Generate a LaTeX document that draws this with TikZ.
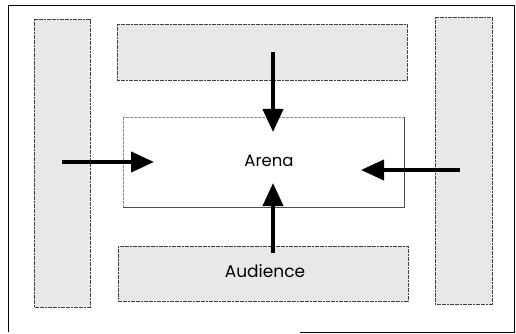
\documentclass[tikz,border=0pt]{standalone}
\usepackage{fontspec}
\setmainfont{Poppins}
\usetikzlibrary{arrows.meta}
\begin{document}
\begin{tikzpicture}[x=1pt,y=-1pt,
  zone/.style={draw=black!75, line width=0.7pt, dash pattern=on 2pt off 0.6pt, fill=black!9},
  arenabox/.style={draw=black!45, line width=0.5pt, dash pattern=on 3pt off 1pt},
  bigarrow/.style={line width=4pt, -{Triangle[length=23pt,width=20pt]}}]
\useasboundingbox (0,0) rectangle (516,334);
\draw[line width=0.9pt] (8,332) |- (514,5);
\draw[line width=0.6pt] (514,5) -- (514,332) -- (300,332);
% zones
\draw[zone] (34,19) rectangle (90,307);
\draw[zone] (435,17) rectangle (492,304);
\draw[zone] (117,24) rectangle (407,80);
\draw[zone] (118,246) rectangle (408,301);
\node[inner sep=0] (audience) at (265,271) {\fontsize{17}{19}\selectfont Audience};
% arena
\draw[arenabox] (123,117) rectangle (404,207);
\draw[black!70, line width=0.7pt] (123,207) -- (404,207) -- (404,117);
\node[inner sep=0] (arena) at (269,161) {\fontsize{16.5}{19}\selectfont Arena};
% arrow ends
\coordinate (lS) at (62,162);  \coordinate (lE) at (154,162);
\coordinate (rS) at (460,170); \coordinate (rE) at (361,170);
\coordinate (tS) at (273,52);  \coordinate (tE) at (273,132);
\coordinate (bS) at (273,253); \coordinate (bE) at (273,183);
\draw[bigarrow] (lS) -- (lE);
\draw[bigarrow] (rS) -- (rE);
\draw[bigarrow] (tS) -- (tE);
\draw[bigarrow] (bS) -- (bE);
\end{tikzpicture}
\end{document}
